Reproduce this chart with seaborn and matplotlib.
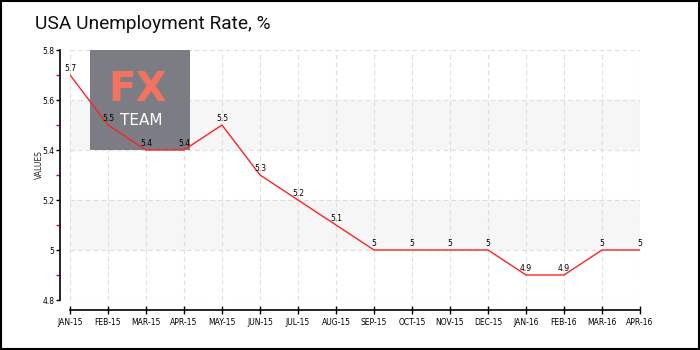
import matplotlib
matplotlib.use("Agg")
import matplotlib.pyplot as plt
import seaborn as sns
import pandas as pd
from matplotlib.patches import Rectangle

months = ["JAN-15", "FEB-15", "MAR-15", "APR-15", "MAY-15", "JUN-15", "JUL-15", "AUG-15",
          "SEP-15", "OCT-15", "NOV-15", "DEC-15", "JAN-16", "FEB-16", "MAR-16", "APR-16"]
rates = [5.7, 5.5, 5.4, 5.4, 5.5, 5.3, 5.2, 5.1, 5.0, 5.0, 5.0, 5.0, 4.9, 4.9, 5.0, 5.0]
y_ticks = [4.8, 5.0, 5.2, 5.4, 5.6, 5.8]
y_tick_labels = ["4.8", "5", "5.2", "5.4", "5.6", "5.8"]
title = "USA Unemployment Rate, %"

sns.set_theme(style="white")
plt.rcParams["font.family"] = ["DejaVu Sans"]

df = pd.DataFrame({"pos": range(len(months)), "rate": rates})

fig = plt.figure(figsize=(7, 3.5), dpi=100)
ax = fig.add_axes([0.1, 1 - 300 / 350, 0.9143 - 0.1, 250 / 350])

# offset spines first: moving a spine rebuilds the ticks
sns.despine(ax=ax, offset=7.2)
for s in ("left", "bottom"):
    ax.spines[s].set_color("black")
    ax.spines[s].set_linewidth(1.2)

ax.set_xlim(0, len(months) - 1)
ax.set_ylim(4.8, 5.8)

# alternating horizontal bands
for lo in (5.0, 5.4):
    ax.axhspan(lo, lo + 0.2, color="#f6f6f6", zorder=0, lw=0)

# dashed grid
grid_kw = dict(color="#dddddd", lw=0.8, ls=(0, (4, 3)), zorder=1)
for y in y_ticks:
    ax.axhline(y, **grid_kw)
for x in range(len(months)):
    ax.axvline(x, **grid_kw)

# logo block
logo = Rectangle((90 / 700, 1 - 150 / 350), 100 / 700, 100 / 350,
                 transform=fig.transFigure, facecolor="#7c7d84", edgecolor="none",
                 zorder=2, clip_on=False)
ax.add_patch(logo)
ax.text(138 / 700, 1 - 90 / 350, "FX", color="#f4735e", fontsize=29, fontweight="bold",
        ha="center", va="center", transform=fig.transFigure, zorder=3)
ax.text(141 / 700, 1 - 121 / 350, "TEAM", color="white", fontsize=11,
        ha="center", va="center", transform=fig.transFigure, zorder=3)

sns.lineplot(data=df, x="pos", y="rate", ax=ax, color="#ff2222", lw=1.0, zorder=5)

for x, v in zip(df["pos"], df["rate"]):
    ax.annotate(f"{v:g}", (x, v), xytext=(0, 1.5), textcoords="offset points",
                ha="center", va="bottom", fontsize=5.5, color="black", zorder=6)

ax.set_xticks(range(len(months)))
ax.set_xticklabels(months)
ax.set_yticks(y_ticks)
ax.set_yticklabels(y_tick_labels)
ax.set_yticks([4.9, 5.1, 5.3, 5.5, 5.7], minor=True)
ax.tick_params(axis="both", which="major", labelsize=5.5, labelcolor="black")
ax.tick_params(axis="y", which="major", direction="out", length=3, width=1, color="black", pad=1, left=True)
ax.tick_params(axis="y", which="minor", direction="out", length=3, width=1, color="red", left=True)
ax.tick_params(axis="x", which="major", direction="inout", length=6, width=1, color="black", pad=3, bottom=True)
ax.set_xlabel("")
ax.set_ylabel("VALUES", fontsize=5.5)
ax.yaxis.set_label_coords(-26 / 570, 0.54)

fig.text(35 / 700, 1 - 24 / 350, title, fontsize=13.8, va="center", ha="left",
         family="Roboto", color="#111111")

border = Rectangle((0.001, 0.002), 0.997, 0.995, transform=fig.transFigure,
                   fill=False, edgecolor="black", lw=1.5)
fig.add_artist(border)

fig.savefig("out.png", dpi=100)
